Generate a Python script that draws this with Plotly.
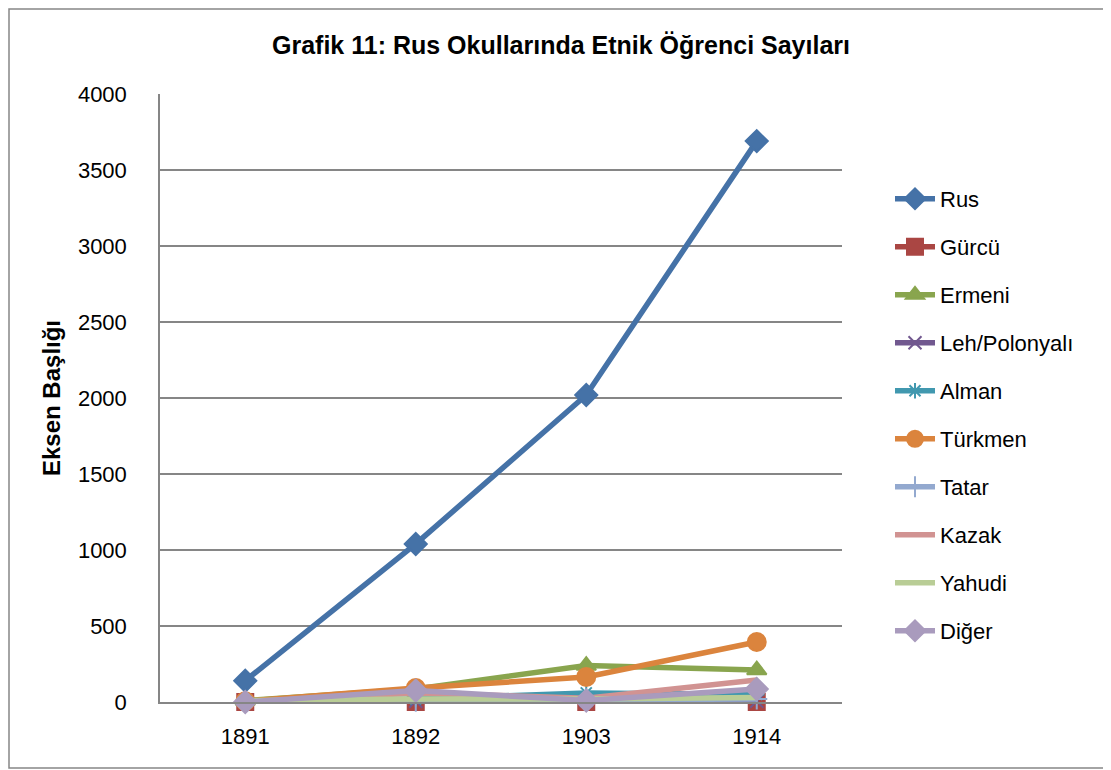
import plotly.graph_objects as go

# data
years = ['1891', '1892', '1903', '1914']
series_names = ['Rus', 'Gürcü', 'Ermeni', 'Leh/Polonyalı', 'Alman',
                'Türkmen', 'Tatar', 'Kazak', 'Yahudi', 'Diğer']
rus = [140, 1040, 2020, 3690]
gurcu = [0, 0, 0, 0]
ermeni = [10, 85, 240, 210]
leh = [5, 5, 10, 5]
alman = [5, 20, 60, 50]
turkmen = [5, 92, 165, 395]
tatar = [0, 5, 10, 20]
kazak = [0, 60, 25, 145]
yahudi = [10, 20, 20, 30]
diger = [0, 75, 10, 85]
values = [rus, gurcu, ermeni, leh, alman, turkmen, tatar, kazak, yahudi, diger]

colors = ['#4572A7', '#AA4643', '#89A54E', '#71588F', '#4198AF',
          '#DB843D', '#93A9CF', '#D19392', '#B9CD96', '#A99BBD']
symbols = ['diamond', 'square', 'triangle-up', 'x-thin', 'asterisk',
           'circle', 'cross-thin', None, None, 'diamond']
sizes = [17, 16, 17, 13, 13, 18, 15, 0, 0, 17]

fig = go.Figure()

for i, name in enumerate(series_names):
    if symbols[i] is None:
        mode = 'lines'
        marker = dict()
    else:
        mode = 'lines+markers'
        marker = dict(symbol=symbols[i], size=sizes[i], color=colors[i],
                      line=dict(color=colors[i], width=2))
    fig.add_trace(go.Scatter(
        x=years, y=values[i], name=name, mode=mode,
        line=dict(color=colors[i], width=5.5),
        marker=marker, legendgroup=name, cliponaxis=False,
    ))

# the page adds an 8px body margin, so work in page coords minus 8
OFF = 8
W, H = 1111 - OFF, 770 - OFF
L, T = 160 - OFF, 94 - OFF
pw, ph = 682, 608
R, B = W - L - pw, H - T - ph

def px(x):   # page x -> paper fraction
    return (x - OFF - L) / pw

def py(y):   # page y -> paper fraction
    return 1 - (y - OFF - T) / ph

fig.update_layout(
    width=W, height=H,
    margin=dict(l=L, r=R, t=T, b=B),
    plot_bgcolor='white', paper_bgcolor='white',
    font=dict(family='Liberation Sans, Arial, sans-serif', size=22, color='black'),
    title=dict(
        text='<b>Grafik 11: Rus Okullarında Etnik Öğrenci Sayıları</b>',
        x=px(561), xref='paper', xanchor='center',
        y=1 - (45 - OFF) / H, yanchor='middle',
        font=dict(size=25),
    ),
    xaxis=dict(
        type='category', range=[-0.5, 3.5],
        showline=True, linecolor='#868686', linewidth=1.5,
        showgrid=False, ticks='', tickfont=dict(size=22),
        ticklabelstandoff=14,
    ),
    yaxis=dict(
        range=[0, 4000], dtick=500,
        showline=True, linecolor='#868686', linewidth=1.5,
        showgrid=True, gridcolor='#868686', gridwidth=1.5,
        zeroline=False, ticks='', tickfont=dict(size=22),
        ticklabelstandoff=27,
        title=dict(text='<b>Eksen Başlığı</b>', font=dict(size=24), standoff=10),
    ),
    legend=dict(
        x=px(890), xanchor='left',
        y=py(178), yanchor='top',
        traceorder='grouped', tracegroupgap=16.4,
        font=dict(size=22), itemwidth=40,
        bgcolor='rgba(0,0,0,0)',
    ),
    showlegend=True,
)

# grey chart-area border like the original
fig.add_shape(type='rect', xref='paper', yref='paper',
              x0=px(9), x1=px(1120),
              y0=py(768), y1=py(9),
              line=dict(color='#868686', width=1.5), layer='below')

fig.write_html('out.html')
